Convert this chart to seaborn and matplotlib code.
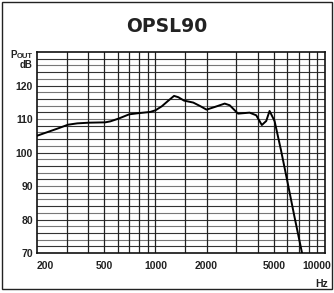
import numpy as np
import pandas as pd
import seaborn as sns
import matplotlib
matplotlib.use("Agg")
import matplotlib.pyplot as plt
import matplotlib.transforms as mtransforms
from matplotlib.patches import Rectangle

# frequency response (Hz, dB)
freq = [200, 263, 305, 346, 405, 505, 542, 604, 700, 813, 930, 1000, 1090,
        1192, 1287, 1364, 1472, 1671, 1828, 2000, 2240, 2560, 2740, 3070,
        3590, 3930, 4240, 4500, 4710, 5040, 5500, 6030, 6600, 7320]
spl = [105.0, 107.1, 108.3, 108.7, 108.9, 109.0, 109.3, 110.1, 111.4, 111.8,
       112.1, 112.6, 113.8, 115.5, 116.9, 116.5, 115.5, 114.9, 113.9, 112.8,
       113.6, 114.6, 114.1, 111.6, 111.9, 111.1, 108.2, 109.4, 112.4, 109.4,
       100.7, 90.8, 80.9, 70.0]
xticks = [200, 500, 1000, 2000, 5000, 10000]
xminor = [300, 400, 600, 700, 800, 900, 1500, 3000, 4000, 6000, 7000, 8000, 9000]
yticks = [70, 80, 90, 100, 110, 120]
title = "OPSL90"

df = pd.DataFrame({"freq": freq, "spl": spl})

sns.set_style("white")
plt.rcParams['font.family'] = ['Liberation Sans Narrow', 'Liberation Sans', 'DejaVu Sans']

fig = plt.figure(figsize=(3.34, 2.93), dpi=100)
fig.patches.append(Rectangle((0.006, 0.012), 0.988, 0.981, transform=fig.transFigure,
                             fill=False, edgecolor='#222222', linewidth=1.0))
ax = fig.add_axes([37/334, 1-253/293, 288/334, 201/293])

# grid lines
for y in np.arange(72, 130, 2):
    ax.axhline(y, color='#333333' if y % 4 == 0 else '#777777', lw=0.8, zorder=1)
for x in xticks[1:-1] + xminor:
    ax.axvline(x, color='#222222', lw=0.9, zorder=1)

sns.lineplot(data=df, x="freq", y="spl", sort=False, color='black', lw=1.4, ax=ax, zorder=3)

ax.set_xscale('log')
ax.set_xlim(200, 10000)
ax.set_ylim(70, 130)
ax.set_xticks(xticks)
ax.set_xticklabels([str(v) for v in xticks])
ax.xaxis.set_minor_locator(matplotlib.ticker.NullLocator())
ax.set_yticks(yticks)
ax.set_yticklabels([str(v) for v in yticks])
ax.tick_params(length=0, labelsize=7.5, pad=3)
ax.tick_params(axis='x', pad=6)
for lab in ax.get_xticklabels() + ax.get_yticklabels():
    lab.set_fontweight('bold')
    lab.set_color('#222222')
labs = ax.get_xticklabels()
labs[0].set_transform(labs[0].get_transform() + mtransforms.ScaledTranslation(8/100, 0, fig.dpi_scale_trans))
labs[-1].set_transform(labs[-1].get_transform() + mtransforms.ScaledTranslation(-8/100, 0, fig.dpi_scale_trans))
ax.set_xlabel("")
ax.set_ylabel("")
for s in ax.spines.values():
    s.set_color('#111111')
    s.set_linewidth(1.2)

fig.text(167/334, 1-27/293, title, ha='center', va='center', fontsize=13.5,
         fontweight='bold', family=['DejaVu Sans'], color='#222222')
fig.text(33/334, 1-56/293, "OUT", ha='right', va='center', fontsize=5.5, fontweight='bold', color='#222222')
fig.text(16.5/334, 1-55.5/293, "P", ha='right', va='center', fontsize=7, fontweight='bold', color='#222222')
fig.text(33/334, 1-65.5/293, "dB", ha='right', va='center', fontsize=7, fontweight='bold', color='#222222')
fig.text(322/334, 1-284/293, "Hz", ha='center', va='center', fontsize=7.5, fontweight='bold', color='#222222')

fig.savefig("out.png", dpi=100)
